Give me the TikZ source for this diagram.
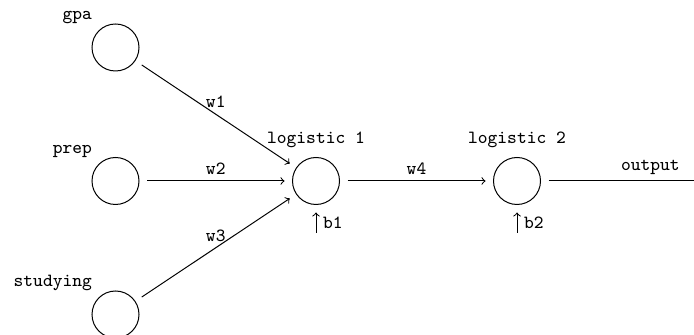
\documentclass[tikz,border=0pt]{standalone}
\usepackage{fontspec}
\begin{document}
\begin{tikzpicture}[x=0.5pt,y=-0.5pt,
  font=\fontsize{9.3}{11}\selectfont\ttfamily,
  >=to,
  unit/.style={circle,draw,line width=0.5pt,minimum size=23.5pt,inner sep=0pt,outer sep=4pt},
  tag/.style={inner sep=0.5pt},
  wlabel/.style={inner sep=3pt},
  wire/.style={->,line width=0.5pt},
  plain/.style={line width=0.5pt}]
\useasboundingbox (0,0) rectangle (694,335);
% input units
\node[unit,label={[tag]above left:gpa}] (gpa) at (115.5,47.5) {};
\node[unit,label={[tag]above left:prep}] (prep) at (115.5,181) {};
\node[unit,label={[tag]above left:studying}] (study) at (115.5,314.5) {};
% logistic units
\node[unit,label={[tag]above:logistic 1}] (l1) at (316,181) {};
\node[unit,label={[tag]above:logistic 2}] (l2) at (517,181) {};
% free ends
\coordinate (out) at (694,181);
\coordinate (b1c) at (316,233);
\coordinate (b2c) at (517,233);
% weighted connections
\draw[wire] (gpa) -- node[wlabel,above]{w1} (l1);
\draw[wire] (prep) -- node[wlabel,above]{w2} (l1);
\draw[wire] (study) -- node[wlabel,above]{w3} (l1);
\draw[wire] (l1) -- node[wlabel,above]{w4} (l2);
\draw[plain] (l2) -- node[wlabel,above,pos=0.7]{output} (out);
% biases
\draw[wire] (b1c) -- node[right]{b1} (l1);
\draw[wire] (b2c) -- node[right]{b2} (l2);
\end{tikzpicture}
\end{document}
